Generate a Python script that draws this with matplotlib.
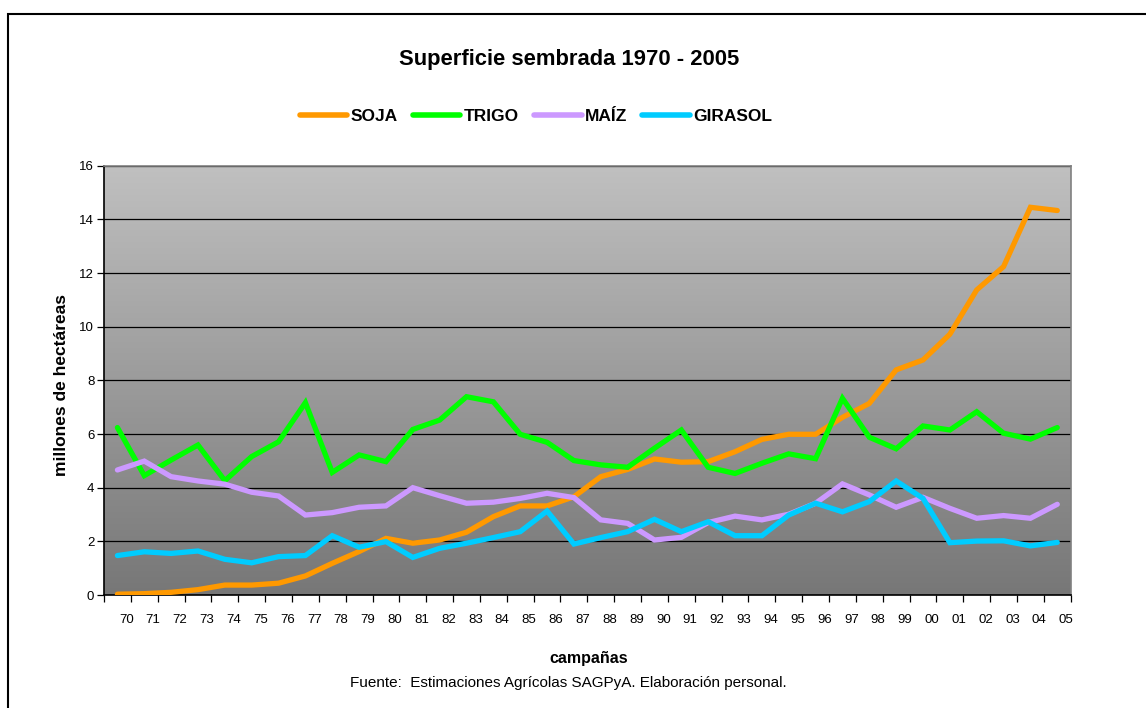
""" superficie sembrada 1970 - 2005 """

import numpy as np
import matplotlib
matplotlib.use("Agg")
import matplotlib.pyplot as plt
from matplotlib.patches import Rectangle

plt.rcParams["font.family"] = ["Liberation Sans", "DejaVu Sans"]

campanas = ["70", "71", "72", "73", "74", "75", "76", "77", "78", "79",
            "80", "81", "82", "83", "84", "85", "86", "87", "88", "89",
            "90", "91", "92", "93", "94", "95", "96", "97", "98", "99",
            "00", "01", "02", "03", "04", "05"]

soja = [0.03, 0.05, 0.10, 0.20, 0.37, 0.37, 0.44, 0.71, 1.18, 1.62,
        2.11, 1.93, 2.05, 2.34, 2.92, 3.32, 3.32, 3.66, 4.41, 4.68,
        5.07, 4.95, 4.97, 5.34, 5.80, 5.99, 5.99, 6.62, 7.14, 8.39,
        8.76, 9.72, 11.37, 12.24, 14.45, 14.33]

trigo = [6.24, 4.45, 5.03, 5.59, 4.26, 5.16, 5.71, 7.17, 4.57, 5.22,
         4.97, 6.17, 6.52, 7.39, 7.20, 5.99, 5.69, 5.01, 4.85, 4.76,
         5.47, 6.15, 4.76, 4.53, 4.91, 5.26, 5.08, 7.33, 5.88, 5.45,
         6.30, 6.15, 6.83, 6.03, 5.81, 6.24]

maiz = [4.66, 4.99, 4.41, 4.25, 4.13, 3.83, 3.69, 2.98, 3.07, 3.27,
        3.32, 4.00, 3.70, 3.42, 3.46, 3.60, 3.79, 3.63, 2.80, 2.67,
        2.05, 2.15, 2.70, 2.94, 2.80, 3.01, 3.42, 4.14, 3.73, 3.27,
        3.64, 3.23, 2.86, 2.96, 2.86, 3.38]

girasol = [1.47, 1.61, 1.55, 1.64, 1.33, 1.20, 1.43, 1.47, 2.21, 1.78,
           1.99, 1.40, 1.74, 1.93, 2.14, 2.36, 3.13, 1.90, 2.14, 2.36,
           2.82, 2.36, 2.73, 2.21, 2.21, 2.98, 3.42, 3.10, 3.48, 4.25,
           3.60, 1.95, 2.01, 2.02, 1.83, 1.96]

series = [("SOJA", soja, "#FF9900"),
          ("TRIGO", trigo, "#00FF00"),
          ("MAÍZ", maiz, "#CC99FF"),
          ("GIRASOL", girasol, "#00CCFF")]

W, H = 1146, 708
fig = plt.figure(figsize=(W / 100, H / 100), dpi=100)

# outer chart border
fig.patches.append(Rectangle((7.5 / W, -0.1), 1.2, (H - 14) / H + 0.1,
                             transform=fig.transFigure, fill=False,
                             edgecolor="black", linewidth=1.5))

ax = fig.add_axes([104 / W, 1 - 595 / H, (1070.7 - 104) / W, (595 - 165.7) / H])

n = len(campanas)
x = np.arange(n)

# gradient background
grad = np.linspace(0, 1, 256).reshape(-1, 1)
ax.imshow(grad, extent=(-0.5, n - 0.5, 0, 16), aspect="auto",
          cmap=matplotlib.colors.LinearSegmentedColormap.from_list(
              "g", ["#C0C0C0", "#777777"]),
          origin="upper", zorder=0)

for name, vals, col in series:
    ax.plot(x, vals, color=col, linewidth=3.8, label=name,
            solid_capstyle="round", solid_joinstyle="miter", zorder=3)

ax.set_xlim(-0.5, n - 0.5)
ax.set_ylim(0, 16)
ax.set_yticks(np.arange(0, 17, 2))
ax.yaxis.grid(True, color="black", linewidth=0.9)
for gl in ax.get_ygridlines():
    gl.set_zorder(1)

ax.set_xticks(x + 0.33)
ax.set_xticklabels(campanas, fontsize=9.5)
ax.set_xticks(np.arange(n + 1) - 0.5, minor=True)
ax.tick_params(axis="x", which="major", length=0, pad=14)
ax.tick_params(axis="x", which="minor", length=5, width=0.9, color="black")
ax.tick_params(axis="y", length=5, width=0.9, labelsize=9.5, pad=2)

ax.spines["left"].set_color("black")
ax.spines["bottom"].set_color("black")
ax.spines["top"].set_color("#808080")
ax.spines["right"].set_color("#808080")
for s in ax.spines.values():
    s.set_linewidth(1.2)

ax.set_ylabel("millones de hectáreas", fontsize=12.5, fontweight="bold")
ax.yaxis.set_label_coords(-0.036, 0.49)

fig.text(569 / W, 1 - 60 / H, "Superficie sembrada 1970 - 2005",
         ha="center", va="center", fontsize=15.8, fontweight="bold")
fig.text(589 / W, 1 - 659 / H, "campañas", ha="center", va="center",
         fontsize=11.5, fontweight="bold")
fig.text(568 / W, 1 - 683 / H,
         "Fuente:  Estimaciones Agrícolas SAGPyA. Elaboración personal.",
         ha="center", va="center", fontsize=11)

leg = fig.legend(loc="center", bbox_to_anchor=(536 / W, 1 - 116 / H),
                 ncol=4, frameon=False, handlelength=2.75, handletextpad=0.2,
                 columnspacing=0.85, prop={"weight": "bold", "size": 12.5})
for line in leg.get_lines():
    line.set_linewidth(4)
    line.set_solid_capstyle("round")

fig.savefig("out.png", dpi=100)
